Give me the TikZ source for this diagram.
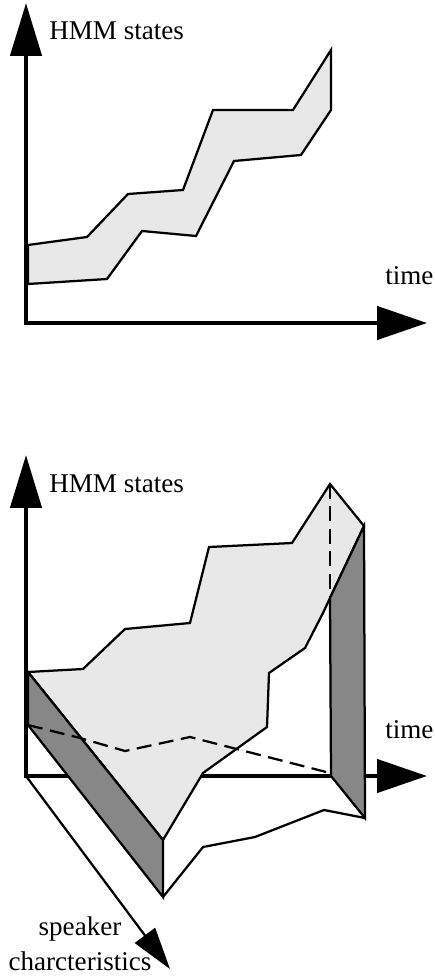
\documentclass[tikz,border=0pt]{standalone}
\usepackage{fontspec}
\setmainfont{Liberation Serif}
\usetikzlibrary{arrows.meta}
\definecolor{surfgray}{gray}{0.91}
\definecolor{bandgray}{gray}{0.53}

\begin{document}
\begin{tikzpicture}[x=0.02cm,y=-0.02cm,line join=miter,
		axis/.style={line width=0.09cm,{Triangle[length=1.06cm,width=0.62cm]}-{Triangle[length=1.0cm,width=0.66cm]}},
		saxis/.style={line width=0.045cm,-{Triangle[length=0.84cm,width=0.5cm]}},
		edge/.style={line width=0.045cm},
		hidden/.style={line width=0.045cm,dash pattern=on 0.3cm off 0.15cm},
		lbl/.style={inner sep=0pt,font=\fontsize{15.4}{18}\selectfont}]
			\useasboundingbox (0,0) rectangle (435,976);
			
			% 2D picture
			\coordinate (o1) at (26,323);
			\coordinate (y1) at (26,3);
			\coordinate (x1) at (427,323);
			\draw[axis] (y1) -- (o1) -- (x1);
			\node[lbl,anchor=base west] (hmm1) at (49,40) {HMM states};
			\node[lbl,anchor=base west] (time1) at (385,285) {time};
			\filldraw[edge,fill=surfgray] (28,245) -- (87,237) -- (128,194) -- (183,190) -- (213,110)
				-- (293,110) -- (331,50) -- (331,110) -- (301,155) -- (234,161) -- (196,236)
				-- (142,231) -- (107,279) -- (28,284) -- cycle;
			
			% 3D picture
			\coordinate (o2) at (26,776);
			\coordinate (y2) at (26,455);
			\coordinate (x2) at (427,776);
			\coordinate (z2) at (170,969);
			\draw[axis] (y2) -- (o2) -- (x2);
			\draw[saxis] (o2) -- (z2);
			\node[lbl,anchor=base west] (hmm2) at (49,492) {HMM states};
			\node[lbl,anchor=base west] (time2) at (385,738) {time};
			\node[lbl,anchor=base] (spk) at (80,935) {speaker};
			\node[lbl,anchor=base] (chr) at (80,970) {charcteristics};
			
			\filldraw[edge,fill=surfgray] (28,672) -- (83,669) -- (125,629) -- (190,623) -- (209,547)
				-- (292,543) -- (330,484) -- (364,526) -- (330,598) -- (323,613) -- (305,648)
				-- (269,673) -- (267,727) -- (203,773) -- (163,840) -- cycle;
			\filldraw[edge,fill=bandgray] (28,672) -- (163,840) -- (163,897) -- (28,725) -- cycle;
			\filldraw[edge,fill=bandgray] (330,598) -- (364,526) -- (365,818) -- (331,776) -- cycle;
			\draw[edge] (163,897) -- (203,847) -- (255,837) -- (324,810) -- (365,818);
			
			\draw[hidden] (330,484) -- (330,598);
			\draw[hidden] (28,725) -- (80,738) -- (125,751) -- (190,737) -- (330,773);
			
		\end{tikzpicture}
\end{document}
